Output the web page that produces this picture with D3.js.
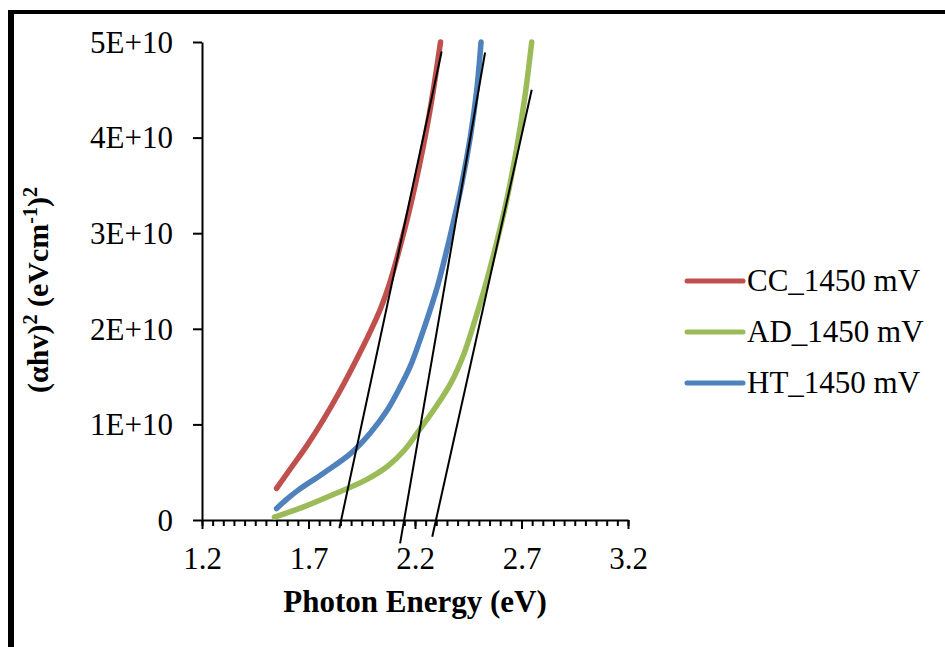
<!DOCTYPE html>
<html>
<head>
<meta charset="utf-8">
<script src="https://d3js.org/d3.v7.min.js"></script>
<style>
body { margin: 0; background: #fff; }
text { font-family: "Liberation Serif", "Times New Roman", serif; fill: #000; }
</style>
</head>
<body>
<div id="chart"></div>
<script>
var svgWidth = 945;
var svgHeight = 647;

// plot area (pixels)
var plot = { left: 202, right: 628, top: 42, bottom: 520 };

// data, y values in units of 1E+10
var seriesNames = ["CC_1450 mV", "AD_1450 mV", "HT_1450 mV"];
var seriesColors = ["#C0504D", "#9BBB59", "#4F81BD"];

var ccEnergy = [1.55, 1.61, 1.69, 1.77, 1.85, 1.93, 1.99, 2.04, 2.08, 2.13, 2.18, 2.22, 2.27, 2.32];
var ccValue  = [0.33, 0.52, 0.77, 1.05, 1.36, 1.70, 1.97, 2.22, 2.47, 2.86, 3.30, 3.70, 4.28, 5.00];

var adEnergy = [1.54, 1.68, 1.83, 1.97, 2.07, 2.15, 2.22, 2.30, 2.37, 2.43, 2.48, 2.53, 2.575, 2.627, 2.676, 2.716, 2.748];
var adValue  = [0.03, 0.14, 0.28, 0.42, 0.56, 0.73, 0.94, 1.19, 1.44, 1.74, 2.08, 2.45, 2.83, 3.31, 3.87, 4.43, 5.00];

var htEnergy = [1.55, 1.60, 1.65, 1.77, 1.90, 1.99, 2.07, 2.13, 2.18, 2.22, 2.27, 2.31, 2.37, 2.42, 2.46, 2.49, 2.51];
var htValue  = [0.12, 0.22, 0.31, 0.49, 0.70, 0.91, 1.15, 1.39, 1.62, 1.86, 2.19, 2.48, 3.02, 3.52, 4.01, 4.50, 5.00];

// tangent (extrapolation) lines: CC, HT, AD
var tangentStartE = [1.845, 2.130, 2.281];
var tangentStartV = [-0.087, -0.244, -0.175];
var tangentEndE   = [2.325, 2.529, 2.748];
var tangentEndV   = [4.90, 4.89, 4.50];

var xTicks = [1.2, 1.7, 2.2, 2.7, 3.2];
var xTickLabels = ["1.2", "1.7", "2.2", "2.7", "3.2"];
var yTicks = [0, 1, 2, 3, 4, 5];
var yTickLabels = ["0", "1E+10", "2E+10", "3E+10", "4E+10", "5E+10"];

var svg = d3.select("#chart")
  .append("svg")
  .attr("width", svgWidth)
  .attr("height", svgHeight);

// frame (only top and left edges show)
svg.append("line")
  .attr("x1", 8).attr("x2", svgWidth).attr("y1", 12).attr("y2", 12)
  .attr("stroke", "#000").attr("stroke-width", 4);
svg.append("line")
  .attr("x1", 11).attr("x2", 11).attr("y1", 10).attr("y2", svgHeight)
  .attr("stroke", "#000").attr("stroke-width", 6);

var xScale = d3.scaleLinear().domain([1.2, 3.2]).range([plot.left, plot.right]);
var yScale = d3.scaleLinear().domain([0, 5]).range([plot.bottom, plot.top]);

// minor x ticks
var xMinor = d3.range(1.2, 3.2001, 0.05);
svg.append("g")
  .attr("transform", `translate(0, ${plot.bottom})`)
  .call(d3.axisBottom(xScale).tickValues(xMinor).tickSize(6).tickSizeOuter(0).tickFormat(""))
  .call(g => g.select(".domain").remove())
  .call(g => g.selectAll("line").attr("stroke-width", 2));

// x axis
var xAxis = svg.append("g")
  .attr("transform", `translate(0, ${plot.bottom})`)
  .call(d3.axisBottom(xScale).tickValues(xTicks).tickSize(9).tickSizeOuter(0)
    .tickFormat((d, i) => xTickLabels[i]));
xAxis.select(".domain").attr("stroke-width", 2);
xAxis.selectAll("line").attr("stroke-width", 2);
xAxis.selectAll("text")
  .attr("y", 49).attr("dy", 0)
  .style("font-size", "31px")
  .style("font-family", "Liberation Serif, Times New Roman, serif");

// y axis
var yAxis = svg.append("g")
  .attr("transform", `translate(${plot.left}, 0)`)
  .call(d3.axisLeft(yScale).tickValues(yTicks).tickSize(9).tickSizeOuter(0)
    .tickFormat((d, i) => yTickLabels[i]));
yAxis.select(".domain").attr("stroke-width", 2);
yAxis.selectAll("line").attr("stroke-width", 2);
yAxis.selectAll("text")
  .attr("x", -29).attr("dy", "0.33em")
  .style("font-size", "31px")
  .style("font-family", "Liberation Serif, Times New Roman, serif");

// curves
var seriesData = [
  ccEnergy.map((e, i) => [e, ccValue[i]]),
  adEnergy.map((e, i) => [e, adValue[i]]),
  htEnergy.map((e, i) => [e, htValue[i]])
];

var line = d3.line()
  .x(d => xScale(d[0]))
  .y(d => yScale(d[1]))
  .curve(d3.curveCatmullRom.alpha(0.5));

svg.selectAll(".series")
  .data(seriesData)
  .enter()
  .append("path")
  .attr("class", "series")
  .attr("d", line)
  .attr("fill", "none")
  .attr("stroke", (d, i) => seriesColors[i])
  .attr("stroke-width", 5.5)
  .attr("stroke-linecap", "round");

// tangent lines
svg.selectAll(".tangent")
  .data(tangentStartE)
  .enter()
  .append("line")
  .attr("class", "tangent")
  .attr("x1", (d, i) => xScale(tangentStartE[i]))
  .attr("y1", (d, i) => yScale(tangentStartV[i]))
  .attr("x2", (d, i) => xScale(tangentEndE[i]))
  .attr("y2", (d, i) => yScale(tangentEndV[i]))
  .attr("stroke", "#000")
  .attr("stroke-width", 2);

// legend
var legend = svg.selectAll(".legend")
  .data(seriesNames)
  .enter()
  .append("g")
  .attr("class", "legend")
  .attr("transform", (d, i) => `translate(687, ${281 + i * 51})`);

legend.append("line")
  .attr("x1", 0).attr("x2", 56)
  .attr("stroke", (d, i) => seriesColors[i])
  .attr("stroke-width", 5)
  .attr("stroke-linecap", "round");

legend.append("text")
  .attr("x", 60)
  .attr("y", 10)
  .style("font-size", "31px")
  .text(d => d);

// axis titles
svg.append("text")
  .attr("x", (plot.left + plot.right) / 2)
  .attr("y", 612)
  .attr("text-anchor", "middle")
  .style("font-family", "Liberation Serif")
  .style("font-size", "31px")
  .style("font-weight", "700")
  .text("Photon Energy (eV)");

var yTitle = svg.append("text")
  .attr("transform", "translate(48, 290) rotate(-90)")
  .attr("text-anchor", "middle")
  .style("font-family", "Liberation Serif")
  .style("font-size", "30px")
  .style("font-weight", "700");
yTitle.append("tspan").text("(αhv)");
yTitle.append("tspan").attr("dy", -11).style("font-size", "20px").text("2");
yTitle.append("tspan").attr("dy", 11).text(" (eVcm");
yTitle.append("tspan").attr("dy", -11).style("font-size", "20px").text("-1");
yTitle.append("tspan").attr("dy", 11).text(")");
yTitle.append("tspan").attr("dy", -11).style("font-size", "20px").text("2");
</script>
</body>
</html>
